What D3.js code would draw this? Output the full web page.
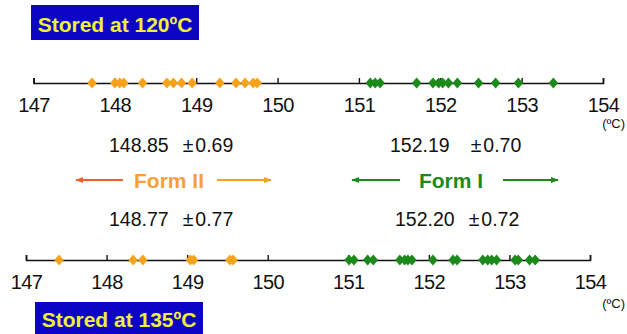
<!DOCTYPE html>
<html>
<head>
<meta charset="utf-8">
<script src="https://cdn.jsdelivr.net/npm/d3@7"></script>
<style>
  body { margin: 0; background: #fff; }
  svg { font-family: "Liberation Sans", Arial, sans-serif; }
</style>
</head>
<body>
<svg width="627" height="334"></svg>
<script>
// melting points (ºC)
const formII_120 = [147.72, 148.00, 148.06, 148.11, 148.34, 148.64, 148.72, 148.82, 148.95, 149.29, 149.49, 149.60, 149.70, 149.75];
const formI_120 = [151.14, 151.20, 151.26, 151.71, 151.91, 151.98, 152.03, 152.10, 152.21, 152.47, 152.68, 152.96, 153.39];
const formII_135 = [147.41, 148.33, 148.45, 149.04, 149.08, 149.53, 149.57];
const formI_135 = [151.01, 151.07, 151.24, 151.31, 151.64, 151.70, 151.74, 151.79, 152.05, 152.30, 152.35, 152.67, 152.73, 152.78, 152.84, 153.07, 153.11, 153.25, 153.32];
const tickValues = [147, 148, 149, 150, 151, 152, 153, 154];
const meansTop = ["148.85", "152.19"], sdTop = ["\u00b1", "0.69", "0.70"];
const meansBottom = ["148.77", "152.20"], sdBottom = ["0.77", "0.72"];
const titles = ["Stored at 120\u00baC", "Stored at 135\u00baC"];

const svg = d3.select("svg");
const orange = "#f7a21b", orangeRed = "#f0602a", green = "#1b8a1b";

const xTop = d3.scaleLinear().domain([147, 154]).range([33.5, 603]);
const xBot = d3.scaleLinear().domain([147, 154]).range([26, 590]);

// wide diamond
const diamond = {
  draw(ctx, size) {
    const h = Math.sqrt(size) * 0.62, w = h * 0.85;
    ctx.moveTo(0, -h); ctx.lineTo(w, 0); ctx.lineTo(0, h); ctx.lineTo(-w, 0); ctx.closePath();
  }
};
const sym = d3.symbol().type(diamond).size(82);

function drawAxis(x, y) {
  const g = svg.append("g")
    .attr("transform", `translate(0,${y})`)
    .call(d3.axisBottom(x).tickValues(tickValues).tickFormat(d3.format("d"))
      .tickSizeInner(-5).tickSizeOuter(-5).tickPadding(15));
  g.select(".domain").attr("stroke", "#111").attr("stroke-width", 1.6);
  g.selectAll(".tick line").attr("stroke", "#111").attr("stroke-width", 1.4);
  g.selectAll(".tick text").attr("font-size", 20).attr("fill", "#111")
    .attr("font-family", "Liberation Sans, Arial, sans-serif").attr("letter-spacing", -0.6);
  return g;
}

function drawMarks(x, y, data, color) {
  svg.append("g").selectAll("path")
    .data(data).enter().append("path")
    .attr("d", sym)
    .attr("transform", d => `translate(${x(d)},${y})`)
    .attr("fill", color);
}

const yTop = 83, yBot = 260;
drawAxis(xTop, yTop);
drawMarks(xTop, yTop, formII_120, orange);
drawMarks(xTop, yTop, formI_120, green);
drawAxis(xBot, yBot);
drawMarks(xBot, yBot, formII_135, orange);
drawMarks(xBot, yBot, formI_135, green);

// unit labels
svg.append("text").attr("x", 625).attr("y", 128).attr("text-anchor", "end")
  .attr("font-size", 13).attr("fill", "#111").text("(\u00baC)");
svg.append("text").attr("x", 625).attr("y", 308).attr("text-anchor", "end")
  .attr("font-size", 13).attr("fill", "#111").text("(\u00baC)");

// title boxes
const boxes = [{x: 31, y: 5, w: 168, h: 35, ty: 32, t: titles[0]}, {x: 35, y: 302, w: 168, h: 35, ty: 327, t: titles[1]}];
boxes.forEach(b => {
  svg.append("rect").attr("x", b.x).attr("y", b.y).attr("width", b.w).attr("height", b.h).attr("fill", "#0c06c4");
  svg.append("text").attr("x", b.x + b.w / 2).attr("y", b.ty).attr("text-anchor", "middle")
    .attr("font-size", 21).attr("font-weight", "bold").attr("fill", "#f2ee3c").text(b.t);
});

// mean ± sd
function stat(x, y, m, s, gap) {
  const t = svg.append("text").attr("x", x).attr("y", y).attr("font-size", 19.5).attr("fill", "#111");
  t.append("tspan").text(m);
  t.append("tspan").attr("dx", gap).text(sdTop[0]);
  t.append("tspan").attr("dx", 2).text(s);
}
stat(109, 152, meansTop[0], sdTop[1], 14);
stat(390, 152, meansTop[1], sdTop[2], 21);
stat(109, 226, meansBottom[0], sdBottom[0], 14);
stat(395, 226, meansBottom[1], sdBottom[1], 14);

// form labels with arrows
const defs = svg.append("defs");
function marker(id, color) {
  defs.append("marker").attr("id", id).attr("viewBox", "0 0 10 10").attr("refX", 9).attr("refY", 5)
    .attr("markerWidth", 4).attr("markerHeight", 4).attr("orient", "auto-start-reverse")
    .append("path").attr("d", "M0,1L10,5L0,9Z").attr("fill", color);
}
marker("aOR", orangeRed); marker("aO", orange); marker("aG", green);

const yForm = 180;
function arrow(x1, x2, color, id, start) {
  const l = svg.append("line").attr("x1", x1).attr("x2", x2).attr("y1", yForm).attr("y2", yForm)
    .attr("stroke", color).attr("stroke-width", 2);
  if (start) l.attr("marker-start", `url(#${id})`); else l.attr("marker-end", `url(#${id})`);
}
arrow(76, 123, orangeRed, "aOR", true);
arrow(217, 271, orange, "aO", false);
arrow(352, 400, green, "aG", true);
arrow(503, 558, green, "aG", false);

svg.append("text").attr("x", 169).attr("y", yForm + 8).attr("text-anchor", "middle")
  .attr("font-size", 21).attr("font-weight", "bold").attr("fill", "#f5a03a").text("Form II");
svg.append("text").attr("x", 451).attr("y", yForm + 8).attr("text-anchor", "middle")
  .attr("font-size", 21).attr("font-weight", "bold").attr("fill", green).text("Form I");
</script>
</body>
</html>
